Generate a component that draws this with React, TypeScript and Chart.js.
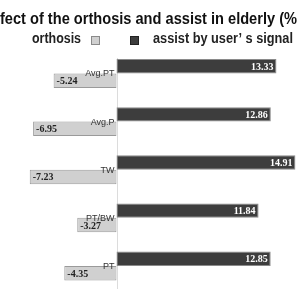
import React, { useEffect, useRef } from "react";
import { Chart, registerables } from "chart.js";

Chart.register(...registerables);

const categories = ["Avg.PT", "Avg.P", "TW", "PT/BW", "PT"];
const assistValues = [13.33, 12.86, 14.91, 11.84, 12.85];
const orthosisValues = [-5.24, -6.95, -7.23, -3.27, -4.35];
const titleText = "fect of the orthosis and assist in elderly (%";
const legendOrthosis = "orthosis";
const legendAssist = "assist by user\u2019 s signal";

const DARK = "#3d3d3d";
const DARK_BORDER = "#8a8a8a";
const LIGHT = "#d0d0d0";
const LIGHT_BORDER = "#9a9a9a";

const textPlugin = {
  id: "customText",
  beforeDatasetsDraw(chart: any) {
    const ctx = chart.ctx;
    const x0 = chart.scales.x.getPixelForValue(0);
    ctx.save();
    ctx.strokeStyle = "#dcdcdc";
    ctx.lineWidth = 1;
    ctx.beginPath();
    ctx.moveTo(Math.round(x0) + 0.5, 58);
    ctx.lineTo(Math.round(x0) + 0.5, chart.height);
    ctx.stroke();
    ctx.restore();
  },
  afterDraw(chart: any) {
    const ctx = chart.ctx;
    ctx.save();
    // title
    ctx.fillStyle = "#111";
    ctx.textBaseline = "alphabetic";
    ctx.textAlign = "left";
    ctx.font = "bold 16px 'Liberation Sans', Arial, sans-serif";
    ctx.fillText(titleText, 0, 24, 297);
    // legend
    ctx.font = "bold 14px 'Liberation Sans', Arial, sans-serif";
    ctx.fillStyle = "#222";
    ctx.fillText(legendOrthosis, 32, 43, 49);
    ctx.fillText(legendAssist, 153, 43, 140);
    ctx.fillStyle = LIGHT;
    ctx.strokeStyle = "#8a8a8a";
    ctx.fillRect(91, 36, 9, 9);
    ctx.strokeRect(91.5, 36.5, 8, 8);
    ctx.fillStyle = DARK;
    ctx.strokeStyle = "#222";
    ctx.fillRect(130, 36, 9, 9);
    ctx.strokeRect(130.5, 36.5, 8, 8);

    const x0 = chart.scales.x.getPixelForValue(0);
    const metaA = chart.getDatasetMeta(0);
    const metaO = chart.getDatasetMeta(1);
    categories.forEach((cat, i) => {
      const yc = chart.scales.y.getPixelForValue(i);
      // category label
      ctx.font = "9px 'Liberation Sans', Arial, sans-serif";
      ctx.fillStyle = "#333";
      ctx.textAlign = "right";
      ctx.textBaseline = "alphabetic";
      ctx.fillText(cat, x0 - 2, yc + 3);
      // positive value
      const ba = metaA.data[i];
      ctx.font = "bold 10px 'Liberation Serif', 'Times New Roman', serif";
      ctx.fillStyle = "#fff";
      ctx.textAlign = "right";
      ctx.textBaseline = "middle";
      ctx.fillText(assistValues[i].toFixed(2), ba.x - 3, ba.y + 1);
      // negative value
      const bo = metaO.data[i];
      ctx.fillStyle = "#222";
      ctx.textAlign = "left";
      ctx.fillText(orthosisValues[i].toFixed(2), bo.x + 3, bo.y + 1);
    });
    ctx.restore();
  },
};

export default function App() {
  const ref = useRef<HTMLCanvasElement>(null);
  useEffect(() => {
    if (!ref.current) return;
    const chart = new Chart(ref.current, {
      type: "bar",
      data: {
        labels: categories,
        datasets: [
          {
            label: legendAssist,
            data: assistValues,
            backgroundColor: DARK,
            borderColor: DARK_BORDER,
            borderWidth: 1,
            borderSkipped: false,
          },
          {
            label: legendOrthosis,
            data: orthosisValues,
            backgroundColor: LIGHT,
            borderColor: LIGHT_BORDER,
            borderWidth: 1,
            borderSkipped: false,
          },
        ],
      },
      options: {
        indexAxis: "y",
        responsive: false,
        animation: false,
        devicePixelRatio: 1,
        layout: { padding: { top: 49.4, bottom: 0, left: 0, right: 0 } },
        datasets: { bar: { categoryPercentage: 0.6, barPercentage: 1.0 } },
        plugins: { legend: { display: false }, title: { display: false }, tooltip: { enabled: false } },
        scales: {
          x: { display: false, min: -116.5 / 12, max: 182.5 / 12 },
          y: { display: false },
        },
      },
      plugins: [textPlugin],
    });
    return () => chart.destroy();
  }, []);
  return (
    <div
      style={{
        position: "fixed",
        left: 0,
        top: 0,
        width: 299,
        height: 289,
        overflow: "hidden",
        background: "#fff",
      }}
    >
      <canvas ref={ref} width={299} height={290} style={{ display: "block" }} />
    </div>
  );
}
